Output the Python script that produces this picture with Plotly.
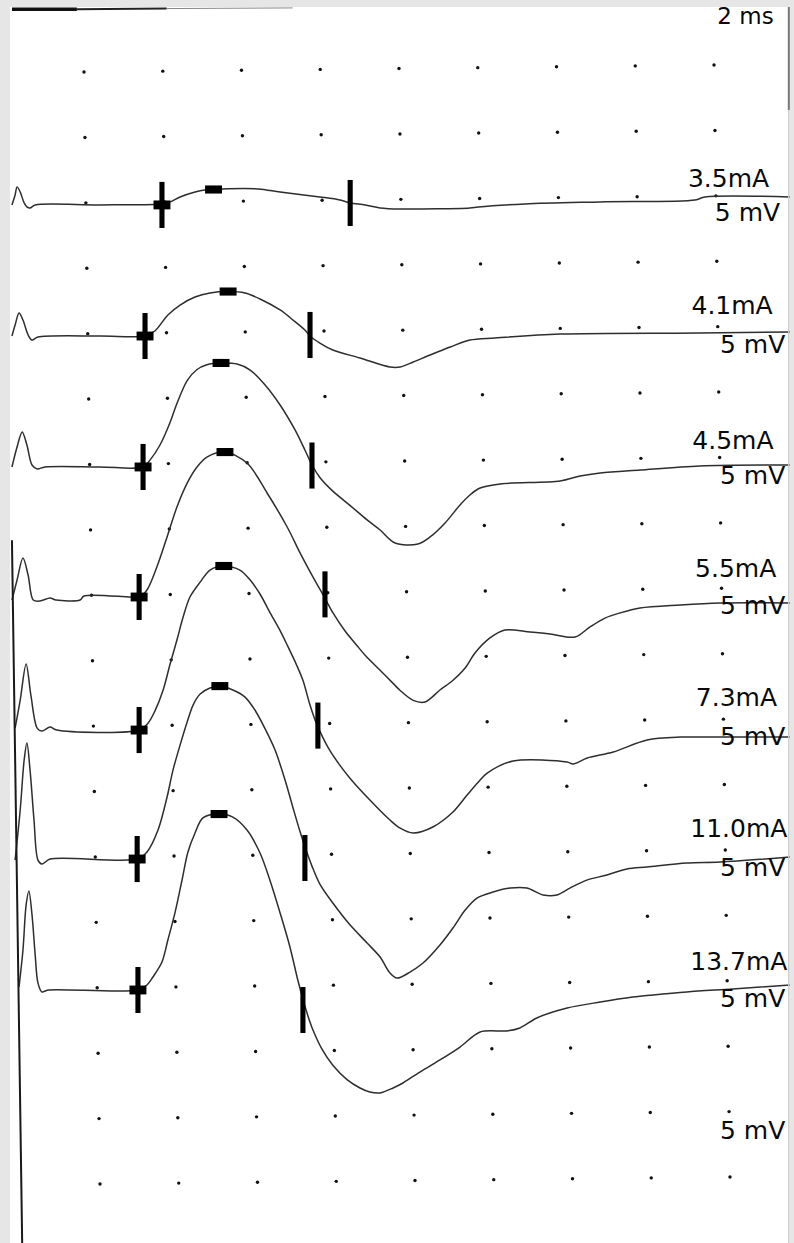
import plotly.graph_objects as go

# ---------------- data (time in ms, amplitude in mV) ----------------
GRID_T = [2, 4, 6, 8, 10, 12, 14, 16, 18]            # 2 ms / division
GRID_V = [0, 5, 10, 15, 20, 25, 30, 35, 40, 45, 50, 55, 60, 65, 70, 75, 80, 85]  # 5 mV / division

STIM_LABELS = ["3.5mA", "4.1mA", "4.5mA", "5.5mA", "7.3mA", "11.0mA", "13.7mA"]
GAIN_LABEL = "5 mV"
SWEEP_LABEL = "2 ms"
BASELINES = [74.84, 64.82, 54.81, 44.87, 34.70, 24.84, 14.83]

T1_t = [0.17, 0.25, 0.30, 0.38, 0.48, 0.55, 0.63, 0.76, 2.41, 3.93, 4.18, 4.44, 4.82, 5.07, 5.50, 6.42, 6.98, 7.99, 8.50, 8.76, 9.14, 9.52, 10.03, 11.80, 12.01, 13.20, 15.11, 17.52, 17.77, 19.93]
T1_v = [0.00, 0.76, 1.38, 0.99, 0.15, -0.15, -0.23, 0.00, 0.00, 0.08, 0.23, 0.61, 0.99, 1.15, 1.22, 1.22, 0.99, 0.61, 0.38, 0.15, 0.00, -0.23, -0.31, -0.23, -0.15, 0.08, 0.23, 0.38, 0.61, 0.61]

T2_t = [0.17, 0.25, 0.35, 0.45, 0.58, 0.68, 0.83, 2.41, 3.55, 3.80, 4.13, 4.44, 4.82, 5.20, 5.66, 6.09, 6.47, 6.98, 7.31, 7.61, 7.74, 7.99, 8.32, 9.01, 9.77, 10.03, 10.36, 10.79, 11.30, 11.80, 12.44, 14.09, 17.64, 19.93]
T2_v = [0.00, 0.84, 1.76, 1.22, 0.08, -0.31, -0.08, 0.00, 0.00, 0.38, 1.61, 2.37, 2.98, 3.29, 3.40, 3.29, 2.83, 1.99, 1.22, 0.46, 0.00, -0.54, -1.07, -1.68, -2.37, -2.37, -1.99, -1.45, -0.84, -0.31, -0.15, 0.15, 0.23, 0.31]

T3_t = [0.17, 0.30, 0.43, 0.55, 0.68, 0.81, 1.01, 2.41, 3.50, 3.68, 3.93, 4.18, 4.36, 4.62, 4.87, 5.12, 5.48, 5.89, 6.22, 6.60, 6.98, 7.36, 7.61, 7.79, 7.99, 8.32, 8.76, 9.19, 9.52, 9.90, 10.48, 10.79, 11.17, 11.55, 11.80, 12.06, 12.57, 14.09, 14.60, 15.11, 16.12, 17.64, 19.93]
T3_v = [0.00, 1.53, 2.68, 1.68, 0.15, -0.15, 0.00, 0.00, 0.00, 0.54, 1.68, 3.36, 4.85, 6.60, 7.45, 7.82, 7.95, 7.87, 7.41, 6.27, 4.74, 2.83, 1.30, 0.15, -0.80, -1.85, -2.95, -4.05, -4.82, -5.81, -5.89, -5.35, -4.28, -2.90, -2.14, -1.61, -1.30, -1.07, -0.69, -0.46, -0.23, 0.08, 0.15]

T4_t = [0.17, 0.30, 0.45, 0.58, 0.71, 0.88, 1.14, 1.29, 1.90, 2.00, 3.17, 3.40, 3.60, 3.85, 4.11, 4.36, 4.62, 4.87, 5.12, 5.58, 6.14, 6.65, 7.16, 7.49, 7.82, 8.12, 8.32, 8.63, 8.93, 9.14, 9.52, 9.85, 10.03, 10.36, 10.66, 11.04, 11.35, 11.68, 11.93, 12.31, 12.69, 13.33, 13.84, 14.47, 14.85, 15.23, 15.61, 16.12, 17.14, 18.15, 19.93]
T4_v = [-0.23, 1.30, 2.98, 1.68, -0.23, -0.31, -0.08, -0.23, -0.23, 0.08, 0.00, 0.00, 0.54, 2.29, 4.59, 6.88, 8.71, 9.94, 10.70, 11.08, 10.24, 7.95, 5.35, 3.36, 1.50, -0.10, -1.20, -2.60, -3.70, -4.45, -5.60, -6.60, -7.15, -7.90, -8.03, -7.11, -6.42, -5.43, -4.28, -3.13, -2.52, -2.68, -2.83, -3.06, -2.29, -1.61, -1.22, -0.84, -0.61, -0.46, -0.46]

T5_t = [0.25, 0.38, 0.53, 0.65, 0.81, 0.93, 1.14, 1.31, 3.40, 3.63, 3.80, 4.01, 4.18, 4.36, 4.51, 4.69, 4.95, 5.20, 5.53, 5.96, 6.22, 6.47, 6.72, 6.98, 7.16, 7.41, 7.56, 7.74, 7.87, 8.07, 8.25, 8.50, 8.76, 9.26, 9.77, 10.03, 10.36, 10.86, 11.37, 11.73, 12.06, 12.24, 12.90, 14.27, 14.42, 14.78, 15.44, 16.30, 17.14, 18.15, 19.93]
T5_v = [0.15, 2.29, 5.05, 2.68, 0.15, -0.08, 0.23, 0.00, 0.00, 0.54, 1.45, 3.06, 4.97, 6.88, 8.56, 10.17, 11.31, 12.23, 12.54, 12.23, 11.47, 10.40, 9.00, 7.60, 6.50, 4.90, 3.80, 1.91, 0.76, -0.60, -1.60, -2.70, -3.70, -5.35, -6.88, -7.50, -7.87, -7.41, -6.27, -4.97, -3.82, -3.29, -2.37, -2.45, -2.60, -2.14, -1.68, -0.76, -0.54, -0.54, -0.54]

T6_t = [0.25, 0.38, 0.48, 0.55, 0.63, 0.73, 0.83, 0.93, 1.14, 3.35, 3.60, 3.88, 4.11, 4.26, 4.44, 4.62, 4.77, 4.95, 5.20, 5.45, 5.78, 6.09, 6.34, 6.60, 6.85, 7.10, 7.30, 7.49, 7.64, 7.79, 7.99, 8.32, 8.76, 9.19, 9.52, 9.77, 9.95, 10.28, 10.61, 11.04, 11.37, 11.68, 11.98, 12.39, 12.82, 13.25, 13.66, 14.01, 14.34, 14.77, 15.28, 15.79, 16.30, 17.31, 18.15, 19.93]
T6_v = [-0.08, 3.75, 7.57, 8.87, 6.80, 2.98, -0.08, -0.38, 0.00, 0.00, 0.54, 2.22, 4.74, 6.80, 8.71, 10.47, 11.77, 12.61, 13.07, 13.22, 12.92, 12.38, 11.39, 9.95, 8.35, 6.10, 4.00, 2.06, 0.69, -0.54, -1.91, -3.36, -5.05, -6.42, -7.49, -8.71, -9.10, -8.64, -7.95, -6.57, -5.27, -3.90, -2.98, -2.52, -2.22, -2.22, -2.75, -2.75, -2.22, -1.61, -1.22, -0.76, -0.61, -0.31, -0.23, 0.15]

T7_t = [0.35, 0.45, 0.53, 0.60, 0.68, 0.76, 0.83, 0.93, 1.09, 3.37, 3.60, 3.75, 3.98, 4.13, 4.31, 4.49, 4.64, 4.82, 5.02, 5.43, 5.78, 6.14, 6.47, 6.72, 6.98, 7.23, 7.43, 7.56, 7.70, 7.82, 8.04, 8.32, 8.68, 9.01, 9.26, 9.52, 9.85, 10.10, 10.53, 11.04, 11.55, 12.06, 12.74, 13.07, 13.50, 14.27, 15.11, 15.94, 16.45, 17.31, 18.48, 19.93]
T7_v = [0.23, 3.06, 6.50, 7.57, 5.73, 2.68, 0.54, -0.15, 0.00, 0.00, 0.38, 0.99, 2.14, 3.82, 5.89, 8.41, 10.55, 12.00, 13.15, 13.45, 13.22, 12.23, 10.47, 8.41, 5.89, 3.29, 0.76, -0.70, -2.10, -3.10, -4.50, -5.75, -6.85, -7.49, -7.80, -7.87, -7.49, -7.11, -6.27, -5.35, -4.36, -3.21, -3.13, -2.90, -2.14, -1.38, -0.92, -0.54, -0.38, -0.15, 0.08, 0.38]

TRACES_T = [T1_t, T2_t, T3_t, T4_t, T5_t, T6_t, T7_t]
TRACES_V = [T1_v, T2_v, T3_v, T4_v, T5_v, T6_v, T7_v]

# cursor markers: onset (+), peak (-), end (|)
ONSET_T = [3.98, 3.55, 3.50, 3.40, 3.40, 3.35, 3.37]
ONSET_V = [0.00, 0.00, 0.00, 0.00, 0.00, 0.00, 0.00]
PEAK_T = [5.29, 5.66, 5.48, 5.58, 5.55, 5.45, 5.43]
PEAK_V = [1.18, 3.40, 7.95, 11.08, 12.54, 13.22, 13.45]
END_T = [8.76, 7.74, 7.79, 8.12, 7.94, 7.61, 7.56]
END_V = [0.15, 0.08, 0.11, 0.20, 0.34, 0.08, -1.53]

# ---------------- layout / style ----------------
W, H = 794, 1243
X_RANGE = [0.1206, 19.930]
Y_RANGE = [-4.510, 89.97]
SKEW_T = 0.406   # slight tilt of the scanned sheet
SKEW_V = 0.535

BAR_HW, BAR_HH = 0.065, 1.76
CROSS_HW, CROSS_HH = 0.215, 0.34
PEAK_HW, PEAK_HH = 0.215, 0.31

LINE_COLOR = "#2e2e2e"
FONT = "DejaVu Sans"

fig = go.Figure()

# dot grid
gx, gy = [], []
for v in GRID_V:
    for t in GRID_T:
        gx.append(t + SKEW_T * (85 - v) / 85)
        gy.append(v + SKEW_V * (t - 2) / 16)
fig.add_trace(go.Scatter(x=gx, y=gy, mode="markers",
                         marker=dict(size=3.4, color="#111111", line=dict(width=0)),
                         hoverinfo="skip", showlegend=False))

# traces
for tt, vv, base, name in zip(TRACES_T, TRACES_V, BASELINES, STIM_LABELS):
    fig.add_trace(go.Scatter(x=tt, y=[base + v for v in vv], mode="lines",
                             line=dict(color=LINE_COLOR, width=1.5, shape="spline", smoothing=0.9),
                             name=name, showlegend=False, hoverinfo="skip"))

shapes = []
def rect(x0, x1, y0, y1):
    shapes.append(dict(type="rect", xref="x", yref="y", x0=x0, x1=x1, y0=y0, y1=y1,
                       fillcolor="black", line=dict(width=0), layer="above"))

for i, base in enumerate(BASELINES):
    ox, oy = ONSET_T[i], base + ONSET_V[i]
    rect(ox - BAR_HW, ox + BAR_HW, oy - BAR_HH, oy + BAR_HH)
    rect(ox - CROSS_HW, ox + CROSS_HW, oy - CROSS_HH, oy + CROSS_HH)
    px_, py_ = PEAK_T[i], base + PEAK_V[i]
    rect(px_ - PEAK_HW, px_ + PEAK_HW, py_ - PEAK_HH, py_ + PEAK_HH)
    ex, ey = END_T[i], base + END_V[i]
    rect(ex - BAR_HW, ex + BAR_HW, ey - BAR_HH, ey + BAR_HH)

# scan edges: left trace line, top rule, right edge
shapes.append(dict(type="line", xref="x", yref="y", x0=0.17, y0=49.2, x1=0.43, y1=-4.51,
                   line=dict(color="#1a1a1a", width=2)))
shapes.append(dict(type="line", xref="x", yref="y", x0=0.17, y0=89.8, x1=1.82, y1=89.8,
                   line=dict(color="#111111", width=3.5)))
shapes.append(dict(type="line", xref="x", yref="y", x0=1.82, y0=89.8, x1=4.1, y1=89.85,
                   line=dict(color="#222222", width=2)))
shapes.append(dict(type="line", xref="x", yref="y", x0=4.1, y0=89.85, x1=7.3, y1=89.9,
                   line=dict(color="#888888", width=1)))
shapes.append(dict(type="line", xref="x", yref="y", x0=19.90, y0=89.97, x1=19.90, y1=82.1,
                   line=dict(color="#777777", width=2)))
shapes.append(dict(type="line", xref="x", yref="y", x0=19.90, y0=82.1, x1=19.90, y1=-4.51,
                   line=dict(color="#cccccc", width=1.5)))

# labels (kept fully inside the sheet)
LABEL_T = [18.37, 18.46, 18.48, 18.55, 18.57, 18.63, 18.63]
LABEL_V = [76.71, 66.96, 56.68, 46.90, 37.04, 26.98, 16.86]
GAIN_T = [18.85, 18.98, 18.98, 18.98, 18.98, 18.98, 18.98, 18.98]
GAIN_V = [74.07, 64.02, 54.00, 44.07, 34.02, 24.00, 13.99, 3.94]

fig.add_trace(go.Scatter(x=LABEL_T, y=LABEL_V, mode="text", text=STIM_LABELS,
                         textposition="middle center", cliponaxis=False,
                         textfont=dict(family=FONT, size=25, color="#0a0a0a"),
                         hoverinfo="skip", showlegend=False))
fig.add_trace(go.Scatter(x=GAIN_T, y=GAIN_V, mode="text", text=[GAIN_LABEL] * len(GAIN_T),
                         textposition="middle center", cliponaxis=False,
                         textfont=dict(family=FONT, size=25, color="#0a0a0a"),
                         hoverinfo="skip", showlegend=False))
fig.add_trace(go.Scatter(x=[18.80], y=[89.09], mode="text", text=[SWEEP_LABEL],
                         textposition="middle center", cliponaxis=False,
                         textfont=dict(family=FONT, size=23, color="#0a0a0a"),
                         hoverinfo="skip", showlegend=False))

fig.update_layout(
    width=W, height=H,
    margin=dict(l=10, r=4, t=7, b=0, pad=0, autoexpand=False),
    paper_bgcolor="#e6e6e6", plot_bgcolor="white",
    shapes=shapes, showlegend=False,
    xaxis=dict(range=X_RANGE, visible=False, showgrid=False, zeroline=False, fixedrange=True),
    yaxis=dict(range=Y_RANGE, visible=False, showgrid=False, zeroline=False, fixedrange=True),
)

fig.write_html("out.html", config={"displayModeBar": False, "staticPlot": True})
